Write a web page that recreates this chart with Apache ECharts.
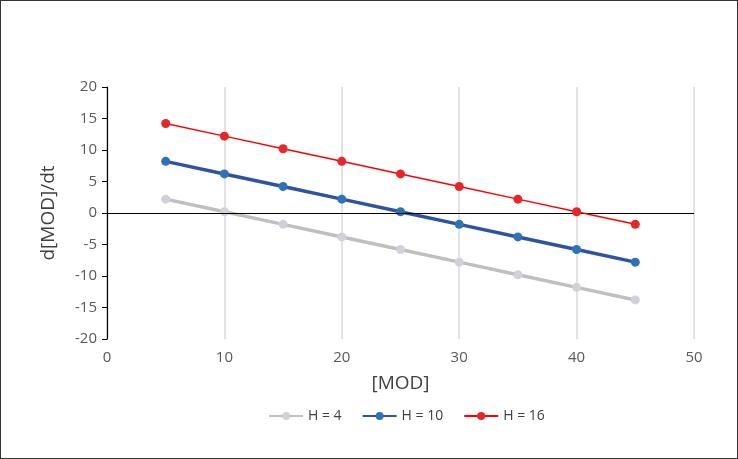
<!DOCTYPE html>
<html>
	<head>
		<meta charset="UTF-8">
		<title></title>
	</head>
	<body style="margin: 0">
		<div id="container" style="width: 736px; height: 457px; border: 1px solid #333"></div>
		<script src="https://cdn.jsdelivr.net/npm/echarts@6/dist/echarts.min.js" type="text/javascript" charset="utf-8"></script>
		<script type="text/javascript">
			var xValues = [5, 10, 15, 20, 25, 30, 35, 40, 45];
			var h4 = [2.2, 0.2, -1.8, -3.8, -5.8, -7.8, -9.8, -11.8, -13.8];
			var h10 = [8.2, 6.2, 4.2, 2.2, 0.2, -1.8, -3.8, -5.8, -7.8];
			var h16 = [14.2, 12.2, 10.2, 8.2, 6.2, 4.2, 2.2, 0.2, -1.8];

			function pairs(ys) {
			    return xValues.map(function (x, i) { return [x, ys[i]]; });
			}

			var dom = document.getElementById("container");
			var myChart = echarts.init(dom);
			var font = 'Open Sans';

			var option = {
			    animation: false,
			    textStyle: { fontFamily: font },
			    grid: { left: 106, right: 43, top: 86, bottom: 119 },
			    legend: {
			        left: 262,
			        bottom: 30,
			        itemWidth: 34,
			        itemHeight: 10,
			        itemGap: 20,
			        textStyle: { fontSize: 14, color: '#404040', fontFamily: font },
			        data: ['H = 4', 'H = 10', 'H = 16']
			    },
			    xAxis: {
			        type: 'value',
			        min: 0, max: 50, interval: 10,
			        name: '[MOD]',
			        nameLocation: 'middle',
			        nameGap: 35,
			        nameTextStyle: { fontSize: 19, color: '#404040' },
			        axisLine: { show: false, onZero: false },
			        axisTick: { show: false },
			        axisLabel: { fontSize: 15, color: '#595959', margin: 11 },
			        splitLine: { show: true, lineStyle: { color: '#d9d9d9', width: 1.5 } }
			    },
			    yAxis: {
			        type: 'value',
			        min: -20, max: 20, interval: 5,
			        name: 'd[MOD]/dt',
			        nameLocation: 'middle',
			        nameGap: 49,
			        nameTextStyle: { fontSize: 19, color: '#404040' },
			        axisLine: { show: true, lineStyle: { color: '#000', width: 1.2 } },
			        axisTick: { show: true, length: 5, lineStyle: { color: '#000' } },
			        axisLabel: { fontSize: 15, color: '#595959', margin: 10 },
			        splitLine: { show: false }
			    },
			    series: [
			        {
			            name: 'H = 4', type: 'line', data: pairs(h4),
			            symbol: 'circle', symbolSize: 9,
			            lineStyle: { color: '#bfbfbf', width: 3.5 },
			            itemStyle: { color: '#d0d1d9' },
			            markLine: {
			                silent: true, symbol: 'none', label: { show: false },
			                lineStyle: { color: '#000', width: 1.2, type: 'solid' },
			                data: [{ yAxis: 0 }]
			            },
			            z: 3
			        },
			        {
			            name: 'H = 10', type: 'line', data: pairs(h10),
			            symbol: 'circle', symbolSize: 9,
			            lineStyle: { color: '#2f53a0', width: 3.5 },
			            itemStyle: { color: '#2e73b8' },
			            z: 4
			        },
			        {
			            name: 'H = 16', type: 'line', data: pairs(h16),
			            symbol: 'circle', symbolSize: 9,
			            lineStyle: { color: '#ff0000', width: 1.5 },
			            itemStyle: { color: '#e8262a' },
			            z: 5
			        }
			    ]
			};

			myChart.setOption(option);
       </script>
	</body>
</html>
